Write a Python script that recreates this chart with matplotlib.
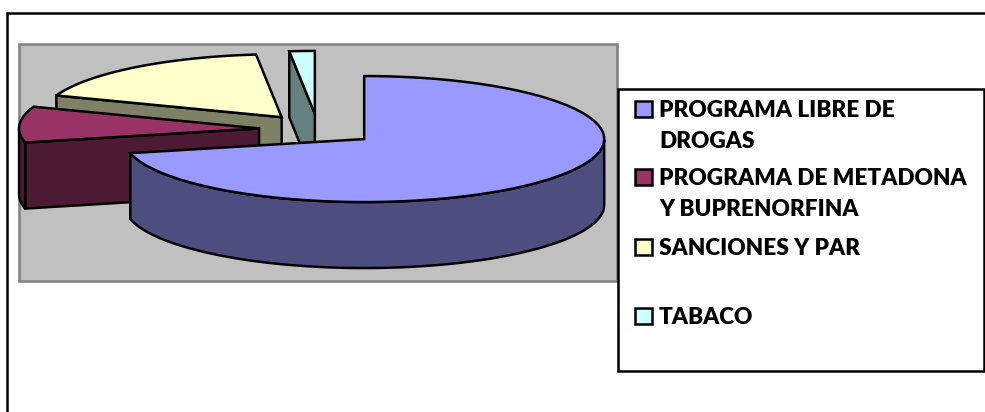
import numpy as np
import matplotlib
matplotlib.use('Agg')
import matplotlib.pyplot as plt
from matplotlib.patches import Polygon, Rectangle

# datos (porcentaje de cada programa)
labels = ['PROGRAMA LIBRE DE\nDROGAS', 'PROGRAMA DE METADONA\nY BUPRENORFINA', 'SANCIONES Y PAR', 'TABACO']
values = [71.4, 9.2, 17.7, 1.7]
colors = ['#9999FF', '#993366', '#FFFFCC', '#CCFFFF']
darks  = ['#4D4D80', '#4D1A33', '#808066', '#668080']

# geometria del pastel, en pixeles
cx, cy  = 318, 129.4
rx, ry  = 240, 63
depth   = 66
explode = 0.246
lw      = 1.8

fig = plt.figure(figsize=(9.85, 4.12), dpi=100)
ax = fig.add_axes([0, 0, 1, 1])
ax.set_xlim(0, 985)
ax.set_ylim(412, 0)
ax.axis('off')

# marco exterior y area de trazado
ax.plot([7, 7, 985], [412, 13, 13], color='black', lw=lw, solid_joinstyle='miter')
ax.add_patch(Rectangle((19, 44), 598, 237, fc='#C0C0C0', ec='#808080', lw=lw))

def ell(t, ax0, ay0):
    return np.column_stack((ax0 + rx * np.cos(t), ay0 - ry * np.sin(t)))

# angulos en sentido horario desde arriba
edges = 90 - np.concatenate(([0], np.cumsum(values))) * 360 / sum(values)

# de atras hacia adelante
for i in [3, 2, 1, 0]:
    a0, a1 = np.radians(edges[i]), np.radians(edges[i + 1])
    mid = (a0 + a1) / 2
    ax0 = cx + explode * rx * np.cos(mid)
    ay0 = cy - explode * ry * np.sin(mid)
    t = np.linspace(a0, a1, 200)
    arc = ell(t, ax0, ay0)
    apex = np.array([[ax0, ay0]])

    # cara del corte
    face = np.vstack((apex, arc[:1], arc[:1] + [0, depth], apex + [0, depth]))
    ax.add_patch(Polygon(face, fc=darks[i], ec='black', lw=lw, joinstyle='miter'))

    # borde exterior, solo la parte delantera
    front = arc[np.sin(t) <= 0]
    if len(front) > 1:
        rim = np.vstack((front, (front + [0, depth])[::-1]))
        ax.add_patch(Polygon(rim, fc=darks[i], ec='black', lw=lw, joinstyle='miter'))

    # cara superior
    ax.add_patch(Polygon(np.vstack((apex, arc)), fc=colors[i], ec='black', lw=lw, joinstyle='miter'))

# leyenda
ax.add_patch(Rectangle((618, 89), 366, 282, fc='white', ec='black', lw=lw))
line_y = [[110.7, 141.7], [178.7, 209.7], [248.7], [317.7]]
for lab, col, ys in zip(labels, colors, line_y):
    ax.add_patch(Rectangle((635, ys[0] - 10), 17, 16.5, fc=col, ec='black', lw=lw))
    for s, y in zip(lab.split('\n'), ys):
        ax.text(659, y, s, family='Lato', weight='heavy', fontsize=16.25, va='center', ha='left', color='black')

fig.savefig('out.png', dpi=100)
